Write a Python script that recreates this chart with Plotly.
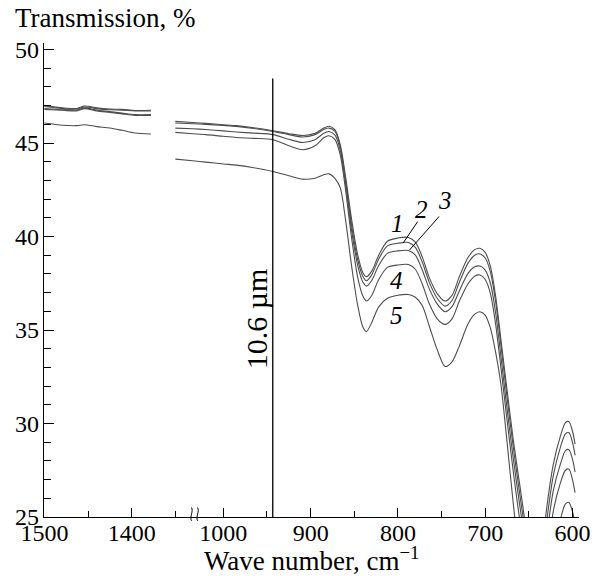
import plotly.graph_objects as go

# ---------------- data ----------------
# left segment (wavenumber, cm^-1) -- drawn before the axis break
wn_left = [1500, 1479, 1463, 1454, 1440, 1425, 1411, 1396, 1378]
c1_left = [47.00, 46.88, 46.85, 46.98, 46.88, 46.82, 46.80, 46.74, 46.75]
c2_left = [46.95, 46.84, 46.82, 46.93, 46.84, 46.78, 46.76, 46.72, 46.72]
c3_left = [46.85, 46.78, 46.76, 46.88, 46.76, 46.68, 46.60, 46.52, 46.52]
c4_left = [46.80, 46.75, 46.72, 46.84, 46.72, 46.64, 46.56, 46.48, 46.47]
c5_left = [46.07, 45.95, 45.93, 45.98, 45.88, 45.80, 45.68, 45.54, 45.48]

# right segment (wavenumber, cm^-1)
wn_right = [1055, 1035, 1020, 1000, 985, 965, 943, 925, 909, 895, 885, 879, 872, 866,
            860, 853, 846, 840, 836, 830, 822, 812, 800, 788, 780, 772, 764, 755,
            746, 738, 730, 720, 712, 706, 700, 694, 688, 682, 676, 668, 660, 650,
            640, 630, 622, 614, 608, 604, 600, 597]
c1_right = [46.16, 46.10, 46.05, 45.98, 45.93, 45.82, 45.66, 45.50, 45.40, 45.52, 45.80, 45.90, 45.70, 44.90,
            43.20, 40.90, 39.00, 38.05, 37.85, 38.15, 39.00, 39.75, 39.92, 39.95, 39.70, 38.90, 37.80, 36.95,
            36.55, 36.85, 37.80, 38.85, 39.30, 39.37, 39.15, 38.40, 36.80, 34.50, 32.20, 29.20, 26.60, 23.40,
            21.00, 25.30, 27.80, 29.30, 30.05, 30.10, 29.60, 28.90]
c2_right = [46.07, 46.03, 46.00, 45.94, 45.89, 45.78, 45.62, 45.45, 45.32, 45.45, 45.72, 45.80, 45.62, 44.80,
            43.00, 40.60, 38.75, 37.85, 37.64, 37.95, 38.80, 39.50, 39.64, 39.68, 39.42, 38.62, 37.55, 36.70,
            36.28, 36.58, 37.50, 38.55, 39.00, 39.07, 38.85, 38.10, 36.50, 34.20, 31.80, 28.80, 26.10, 23.00,
            20.80, 24.60, 27.20, 28.70, 29.45, 29.51, 29.00, 28.30]
c3_right = [45.80, 45.76, 45.72, 45.65, 45.59, 45.53, 45.45, 45.20, 45.03, 45.18, 45.52, 45.62, 45.42, 44.60,
            42.80, 40.30, 38.45, 37.55, 37.35, 37.65, 38.45, 39.10, 39.23, 39.25, 39.00, 38.20, 37.20, 36.40,
            35.98, 36.25, 37.05, 38.00, 38.38, 38.42, 38.20, 37.50, 35.90, 33.60, 31.20, 28.20, 25.50, 22.40,
            20.20, 23.80, 26.40, 27.80, 28.55, 28.60, 28.10, 27.40]
c4_right = [45.57, 45.50, 45.45, 45.36, 45.30, 45.25, 45.18, 44.85, 44.64, 44.85, 45.28, 45.39, 45.18, 44.35,
            42.50, 39.90, 37.80, 36.80, 36.55, 36.85, 37.70, 38.35, 38.48, 38.50, 38.25, 37.45, 36.40, 35.60,
            35.30, 35.60, 36.50, 37.45, 37.88, 37.94, 37.70, 36.95, 35.30, 33.00, 30.60, 27.50, 24.70, 21.60,
            19.50, 22.50, 25.30, 26.80, 27.50, 27.56, 27.00, 26.30]
c5_right = [44.14, 44.05, 43.98, 43.88, 43.82, 43.68, 43.48, 43.25, 43.07, 43.12, 43.30, 43.35, 43.10, 42.60,
            40.90, 38.40, 36.30, 35.15, 34.92, 35.40, 36.24, 36.70, 36.86, 36.90, 36.75, 36.30, 35.20, 33.95,
            33.05, 33.30, 34.10, 35.30, 35.85, 35.98, 35.80, 35.10, 33.80, 32.10, 29.50, 25.80, 22.50, 19.50,
            18.00, 19.50, 22.00, 24.80, 25.70, 25.78, 25.30, 24.60]

curve_labels = ["1", "2", "3", "4", "5"]

x_ticks_left = [1500, 1400]
x_ticks_right = [1000, 900, 800, 700, 600]
x_minor_left = [1450, 1350]
x_minor_right = [950, 850, 750, 650]
y_ticks = [25, 30, 35, 40, 45, 50]

laser_wn = 10000 / 10.6   # 10.6 µm line

# ---------------- layout helpers ----------------
SHIFT = 295          # axis break: left segment shifted onto the common axis
BREAK_POS = 1033     # where the break marker sits on the axis
FONT = "Liberation Serif"
LINE_COLOR = "#4d4d4d"


def to_axis(w):
    return w - SHIFT if w > 1200 else w


fig = go.Figure()

lefts = [c1_left, c2_left, c3_left, c4_left, c5_left]
rights = [c1_right, c2_right, c3_right, c4_right, c5_right]
for name, cl, cr in zip(curve_labels, lefts, rights):
    xs = [to_axis(w) for w in wn_left] + [None] + list(wn_right)
    ys = list(cl) + [None] + list(cr)
    fig.add_trace(go.Scatter(
        x=xs, y=ys, mode="lines", name=name,
        line=dict(color=LINE_COLOR, width=1.1, shape="spline", smoothing=0.8),
        connectgaps=False, showlegend=False, hoverinfo="skip"))

# 10.6 µm vertical line
fig.add_trace(go.Scatter(x=[laser_wn, laser_wn], y=[25, 48.45], mode="lines",
                         line=dict(color="black", width=1.3),
                         showlegend=False, hoverinfo="skip"))

tickvals = [to_axis(v) for v in x_ticks_left] + x_ticks_right
ticktext = [str(v) for v in x_ticks_left + x_ticks_right]
minorvals = [to_axis(v) for v in x_minor_left] + x_minor_right

fig.update_xaxes(
    range=[1205.5, 592.5], autorange=False,
    tickmode="array", tickvals=tickvals, ticktext=ticktext,
    ticks="inside", ticklen=9, tickwidth=1, tickcolor="black",
    minor=dict(tickmode="array", tickvals=minorvals, ticks="inside",
               ticklen=6, tickwidth=1, tickcolor="black"),
    showline=True, linecolor="black", linewidth=1.2,
    showgrid=False, zeroline=False,
    ticklabelstandoff=-6,
    tickfont=dict(family=FONT, size=24, color="black"),
)
fig.update_yaxes(
    range=[25, 50.35], autorange=False,
    tickmode="array", tickvals=y_ticks, ticktext=[str(v) for v in y_ticks],
    ticks="inside", ticklen=10, tickwidth=1, tickcolor="black",
    minor=dict(dtick=1, ticks="inside", ticklen=7, tickwidth=1, tickcolor="black"),
    showline=True, linecolor="black", linewidth=1.2,
    showgrid=False, zeroline=False,
    ticklabelstandoff=-1,
    tickfont=dict(family=FONT, size=24, color="black"),
)

annotations = [
    dict(text="Transmission, %", xref="paper", yref="paper", x=-0.058, y=1.053,
         xanchor="left", yanchor="middle", showarrow=False,
         font=dict(family=FONT, size=27, color="black")),
    dict(text="Wave number, cm<sup>−1</sup>", xref="paper", yref="paper", x=0.5, y=-0.048,
         xanchor="center", yanchor="top", showarrow=False,
         font=dict(family=FONT, size=27, color="black")),
    dict(text="10.6 µm", x=962, y=35.6, xref="x", yref="y", textangle=-90,
         showarrow=False, font=dict(family=FONT, size=30, color="black")),
]
label_pos = {"1": (800, 40.7), "2": (773.5, 41.45), "3": (745.5, 41.95),
             "4": (801.5, 37.65), "5": (801.5, 35.8)}
for lab in curve_labels:
    lx, ly = label_pos[lab]
    annotations.append(dict(text="<i>" + lab + "</i>", x=lx, y=ly, xref="x", yref="y",
                            showarrow=False, font=dict(family=FONT, size=25, color="black")))

shapes = [
    dict(type="line", xref="x", yref="y", x0=777.3, y0=40.8, x1=794.2, y1=39.64,
         line=dict(color="black", width=1)),
    dict(type="line", xref="x", yref="y", x0=752.8, y0=41.07, x1=786.7, y1=39.28,
         line=dict(color="black", width=1)),
]
# axis-break squiggles
for bx in (BREAK_POS + 3.5, BREAK_POS - 3.5):
    d = 2.6
    shapes.append(dict(
        type="path", xref="x", yref="paper",
        path=f"M {bx},-0.008 C {bx + d},0.0 {bx - d},0.012 {bx},0.02",
        line=dict(color="black", width=1)))

fig.update_layout(
    width=602, height=576,
    margin=dict(l=44, r=15, t=43, b=59),
    paper_bgcolor="white", plot_bgcolor="white",
    annotations=annotations, shapes=shapes,
    font=dict(family=FONT, size=24, color="black"),
)

fig.write_html("out.html", config={"displayModeBar": False},
               post_script="document.body.style.margin='0px';document.body.style.padding='0px';")
